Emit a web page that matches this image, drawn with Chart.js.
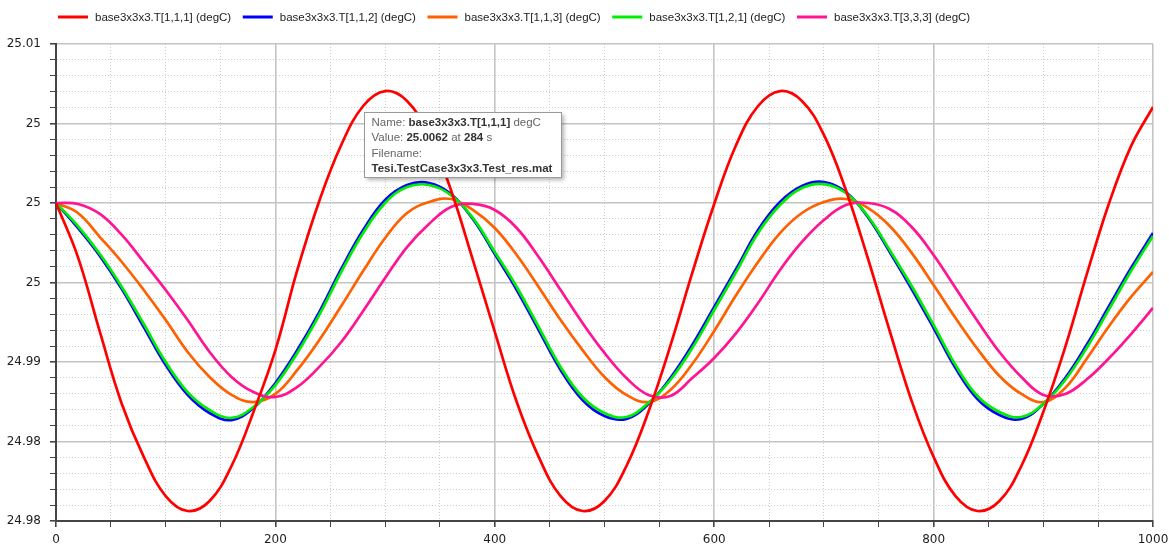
<!DOCTYPE html>
<html>
<head>
<meta charset="utf-8">
<title>base3x3x3 temperatures</title>
<script src="https://cdn.jsdelivr.net/npm/chart.js@4.4.0/dist/chart.umd.min.js"></script>
<style>
  html, body { margin: 0; padding: 0; background: #fff; }
  #wrap { width: 1169px; height: 550px; }
</style>
</head>
<body>
<div id="wrap"><canvas id="chart" width="1169" height="550"></canvas></div>
<script>
var times = [0, 20, 40, 60, 80, 100, 120, 140, 160, 180, 200, 220, 240, 260, 280, 300, 320, 340, 360, 380,
  400, 420, 440, 460, 480, 500, 520, 540, 560, 580, 600, 620, 640, 660, 680, 700, 720, 740, 760, 780,
  800, 820, 840, 860, 880, 900, 920, 940, 960, 980, 1000];

var t111 = [25.00000, 24.99660, 24.99189, 24.98736, 24.98403, 24.98157, 24.98063, 24.98126, 24.98346, 24.98686,
  24.99075, 24.99579, 25.00013, 25.00365, 25.00610, 25.00704, 25.00642, 25.00428, 25.00082, 24.99642,
  24.99189, 24.98748, 24.98403, 24.98157, 24.98063, 24.98126, 24.98346, 24.98686, 24.99101, 24.99560,
  24.99994, 25.00365, 25.00610, 25.00704, 25.00642, 25.00428, 25.00082, 24.99654, 24.99195, 24.98755,
  24.98403, 24.98157, 24.98063, 24.98126, 24.98346, 24.98686, 24.99094, 24.99560, 25.00000, 25.00358,
  25.00604];

var t112 = [25.00000, 24.99843, 24.99667, 24.99459, 24.99220, 24.98981, 24.98793, 24.98679, 24.98635, 24.98711,
  24.98868, 24.99075, 24.99314, 24.99585, 24.99830, 25.00019, 25.00113, 25.00126, 25.00057, 24.99899,
  24.99679, 24.99453, 24.99201, 24.98950, 24.98761, 24.98660, 24.98642, 24.98736, 24.98899, 24.99107,
  24.99346, 24.99585, 24.99830, 25.00006, 25.00107, 25.00132, 25.00069, 24.99912, 24.99692, 24.99459,
  24.99214, 24.98962, 24.98767, 24.98667, 24.98642, 24.98736, 24.98899, 24.99113, 24.99352, 24.99591,
  24.99811];

var t113 = [25.00000, 24.99937, 24.99786, 24.99629, 24.99453, 24.99264, 24.99063, 24.98906, 24.98793, 24.98748,
  24.98799, 24.98950, 24.99138, 24.99352, 24.99572, 24.99780, 24.99937, 25.00006, 25.00025, 24.99956,
  24.99843, 24.99673, 24.99472, 24.99264, 24.99075, 24.98906, 24.98793, 24.98748, 24.98824, 24.98987,
  24.99195, 24.99421, 24.99629, 24.99811, 24.99937, 25.00006, 25.00025, 24.99969, 24.99855, 24.99686,
  24.99484, 24.99277, 24.99082, 24.98912, 24.98799, 24.98748, 24.98837, 24.99025, 24.99226, 24.99409,
  24.99566];

var t121 = [25.00000, 24.99855, 24.99679, 24.99472, 24.99239, 24.99000, 24.98811, 24.98698, 24.98648, 24.98717,
  24.98855, 24.99057, 24.99296, 24.99566, 24.99811, 25.00000, 25.00101, 25.00113, 25.00050, 24.99906,
  24.99692, 24.99472, 24.99220, 24.98969, 24.98780, 24.98679, 24.98654, 24.98742, 24.98887, 24.99088,
  24.99327, 24.99566, 24.99811, 24.99987, 25.00094, 25.00119, 25.00063, 24.99918, 24.99704, 24.99478,
  24.99233, 24.98981, 24.98786, 24.98686, 24.98654, 24.98736, 24.98887, 24.99094, 24.99333, 24.99572,
  24.99792];

var t333 = [25.00000, 24.99994, 24.99931, 24.99799, 24.99629, 24.99453, 24.99264, 24.99063, 24.98906, 24.98811,
  24.98780, 24.98843, 24.98969, 24.99126, 24.99321, 24.99528, 24.99723, 24.99868, 24.99975, 24.99994,
  24.99956, 24.99843, 24.99660, 24.99453, 24.99245, 24.99057, 24.98899, 24.98793, 24.98786, 24.98899,
  24.99025, 24.99182, 24.99371, 24.99579, 24.99755, 24.99893, 24.99987, 25.00000, 24.99962, 24.99849,
  24.99673, 24.99465, 24.99258, 24.99063, 24.98906, 24.98793, 24.98799, 24.98893, 24.99025, 24.99176,
  24.99340];

var seriesLabels = ['base3x3x3.T[1,1,1] (degC)', 'base3x3x3.T[1,1,2] (degC)', 'base3x3x3.T[1,1,3] (degC)',
  'base3x3x3.T[1,2,1] (degC)', 'base3x3x3.T[3,3,3] (degC)'];
var seriesColors = ['#ff0000', '#0000ff', '#ff6000', '#00ee00', '#ff1493'];
var seriesOrder = [0, 4, 3, 2, 1];

var yTickLabels = ['24.98', '24.98', '24.99', '25', '25', '25', '25.01'];

var hoverTime = 284;
var hoverValue = 25.0062;
var infoLines = [
  [['Name: ', false], ['base3x3x3.T[1,1,1]', true], [' degC', false]],
  [['Value: ', false], ['25.0062', true], [' at ', false], ['284', true], [' s', false]],
  [['Filename:', false]],
  [['Tesi.TestCase3x3x3.Test_res.mat', true]]
];

var textFont = '"Liberation Sans", Arial, sans-serif';

function toPoints(values) {
  return times.map(function (t, i) { return {x: t, y: values[i]}; });
}

var legendPlugin = {
  id: 'topLegend',
  afterDraw: function (chart) {
    var ctx = chart.ctx;
    ctx.save();
    ctx.font = '11.5px ' + textFont;
    ctx.textBaseline = 'middle';
    chart.data.datasets.forEach(function (ds, i) {
      var x0 = 58 + i * 184.75;
      ctx.fillStyle = ds.borderColor;
      ctx.fillRect(x0, 15.5, 30, 3);
      ctx.fillStyle = '#222';
      ctx.fillText(ds.label, x0 + 37, 17.5);
    });
    ctx.restore();
  }
};

var infoPlugin = {
  id: 'infoBox',
  afterDatasetsDraw: function (chart) {
    var ctx = chart.ctx,
      xs = chart.scales.x,
      ys = chart.scales.y,
      left = Math.round(xs.getPixelForValue(hoverTime)) - 3.5,
      top = Math.round(ys.getPixelForValue(hoverValue)) + 8.5,
      lineH = 15.5,
      width = 0;

    ctx.save();
    infoLines.forEach(function (parts) {
      var w = 0;
      parts.forEach(function (p) {
        ctx.font = (p[1] ? 'bold ' : '') + '11.5px ' + textFont;
        w += ctx.measureText(p[0]).width;
      });
      width = Math.max(width, w);
    });
    var boxW = Math.round(width + 16),
      boxH = Math.round(infoLines.length * lineH + 3);

    ctx.shadowColor = 'rgba(0, 0, 0, 0.3)';
    ctx.shadowBlur = 4;
    ctx.shadowOffsetX = 2;
    ctx.shadowOffsetY = 2;
    ctx.fillStyle = '#ffffff';
    ctx.fillRect(left, top, boxW, boxH);
    ctx.shadowColor = 'transparent';
    ctx.strokeStyle = '#9a9a9a';
    ctx.lineWidth = 1;
    ctx.strokeRect(left, top, boxW, boxH);

    ctx.textBaseline = 'middle';
    infoLines.forEach(function (parts, row) {
      var x = left + 7;
      var y = top + 10 + row * lineH;
      parts.forEach(function (p) {
        ctx.font = (p[1] ? 'bold ' : '') + '11.5px ' + textFont;
        ctx.fillStyle = p[1] ? '#333' : '#666';
        ctx.fillText(p[0], x, y);
        x += ctx.measureText(p[0]).width;
      });
    });
    ctx.restore();
  }
};

function isMajorX(ctx) {
  return ctx.tick && ctx.tick.value % 200 === 0;
}

function isMajorY(ctx) {
  return ctx.tick && Math.round(ctx.tick.value * 1000) % 5 === 0;
}

Chart.defaults.font.family = '"DejaVu Sans", sans-serif';
Chart.defaults.font.size = 12;

var datasets = [t111, t112, t113, t121, t333].map(function (values, i) {
  return {
    label: seriesLabels[i],
    data: toPoints(values),
    borderColor: seriesColors[i],
    backgroundColor: seriesColors[i],
    borderWidth: 2.7,
    pointRadius: 0,
    tension: 0.4,
    order: seriesOrder[i]
  };
});

var ctx = document.getElementById('chart').getContext('2d');
var chart = new Chart(ctx, {
  type: 'line',
  data: {datasets: datasets},
  plugins: [legendPlugin, infoPlugin],
  options: {
    responsive: false,
    devicePixelRatio: 1,
    animation: false,
    events: [],
    layout: {padding: {top: 44, right: 16, bottom: 0, left: 0}},
    plugins: {
      legend: {display: false},
      tooltip: {enabled: false}
    },
    scales: {
      x: {
        type: 'linear',
        min: 0,
        max: 1000,
        afterFit: function (scale) {
          scale.height = 29;
          scale.paddingLeft = 0;
          scale.paddingRight = 0;
        },
        ticks: {
          stepSize: 50,
          maxTicksLimit: 100,
          autoSkip: false,
          maxRotation: 0,
          padding: 6,
          color: '#1e1e1e',
          callback: function (value) { return value % 200 === 0 ? String(value) : ''; }
        },
        grid: {
          color: function (c) { return isMajorX(c) ? '#c4c4c4' : '#cdcdcd'; },
          lineWidth: function (c) { return isMajorX(c) ? 1.6 : 1; },
          tickLength: 6,
          tickColor: '#444'
        },
        border: {
          color: '#444',
          width: 2,
          dash: function (c) { return c.tick && !isMajorX(c) ? [1, 2] : []; }
        }
      },
      y: {
        type: 'linear',
        min: 24.98,
        max: 25.01,
        afterFit: function (scale) { scale.width = 56; },
        ticks: {
          stepSize: 0.001,
          maxTicksLimit: 100,
          autoSkip: false,
          padding: 9,
          color: '#1e1e1e',
          callback: function (value) {
            var m = Math.round(value * 1000);
            if (m % 5 !== 0) return '';
            return yTickLabels[(m - 24980) / 5];
          }
        },
        grid: {
          color: function (c) { return isMajorY(c) ? '#c4c4c4' : '#cdcdcd'; },
          lineWidth: function (c) { return isMajorY(c) ? 1.6 : 1; },
          tickLength: 6,
          tickColor: '#444'
        },
        border: {
          color: '#444',
          width: 2,
          dash: function (c) { return c.tick && !isMajorY(c) ? [1, 2] : []; }
        }
      }
    }
  }
});
</script>
</body>
</html>
